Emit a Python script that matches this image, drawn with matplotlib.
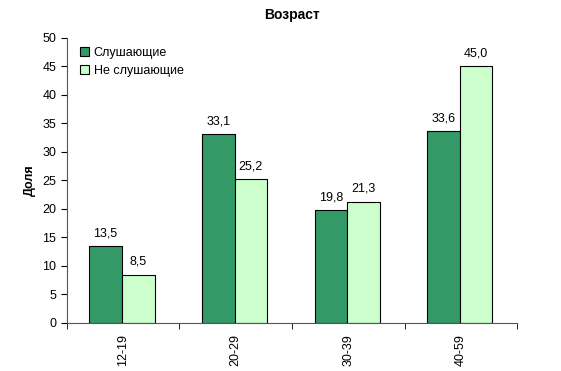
import matplotlib
matplotlib.use('Agg')
import matplotlib.pyplot as plt
import numpy as np

categories = ['12-19', '20-29', '30-39', '40-59']
listeners = [13.5, 33.1, 19.8, 33.6]
non_listeners = [8.5, 25.2, 21.3, 45.0]

plt.rcParams['font.family'] = ['Liberation Sans', 'DejaVu Sans']

fig = plt.figure(figsize=(5.61, 3.71), dpi=100)
ax = fig.add_axes([0.119, 0.1294, 0.803, 0.7682])

x = np.arange(len(categories))
w = 0.29
b1 = ax.bar(x - w / 2 - 0.01, listeners, w, color='#339966', edgecolor='black', linewidth=0.8, label='Слушающие')
b2 = ax.bar(x + w / 2 - 0.01, non_listeners, w, color='#ccffcc', edgecolor='black', linewidth=0.8, label='Не слушающие')

for bars, vals in ((b1, listeners), (b2, non_listeners)):
    for r, v in zip(bars, vals):
        ax.text(r.get_x() + r.get_width() / 2, v + 1.2, ('%.1f' % v).replace('.', ','),
                ha='center', va='bottom', fontsize=9)

ax.set_xlim(-0.5, 3.5)
ax.set_ylim(0, 50)
ax.set_yticks(range(0, 51, 5))
ax.set_xticks(x)
ax.set_xticklabels(categories, rotation=90, fontsize=9)
ax.set_xticks(np.arange(-0.5, 4, 1), minor=True)
ax.tick_params(axis='x', which='major', length=0, pad=8)
ax.tick_params(axis='x', which='minor', length=4, direction='out')
ax.tick_params(axis='y', labelsize=9, length=4, direction='out')

ax.spines['top'].set_visible(False)
ax.spines['right'].set_visible(False)
ax.spines['left'].set_color('#555555')
ax.spines['bottom'].set_color('#555555')

ax.set_title('Возраст', fontsize=10, fontweight='bold', pad=14)
ax.set_ylabel('Доля', fontsize=9, fontweight='bold', labelpad=5)

ax.legend(loc='upper left', frameon=False, fontsize=9, handlelength=0.7, handleheight=0.7,
          handletextpad=0.4, borderaxespad=0.3, labelspacing=0.5, bbox_to_anchor=(0.01, 1.0))

fig.savefig('out.png', dpi=100)
